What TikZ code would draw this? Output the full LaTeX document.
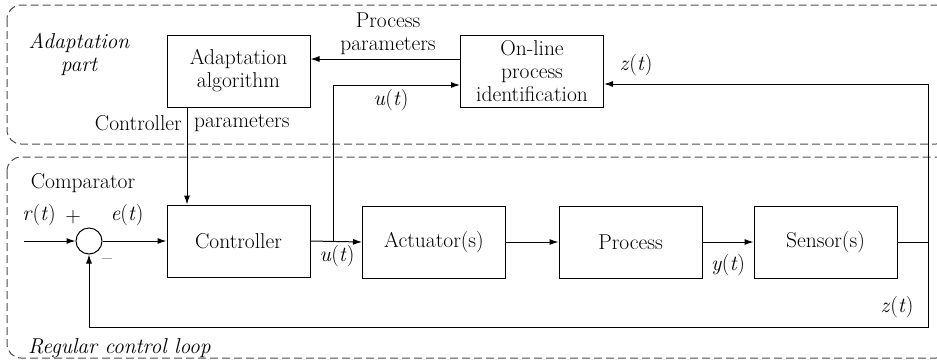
\documentclass[tikz,border=0pt]{standalone}
\usetikzlibrary{arrows.meta}
\begin{document}
\begin{tikzpicture}[x=1pt,y=-1pt,
  font=\rmfamily\fontsize{21.5}{23}\selectfont,
  blk/.style={draw,line width=1pt,minimum width=143pt,minimum height=72pt,inner sep=0pt,align=center},
  sig/.style={line width=1pt,-{Latex[length=9pt,width=6pt]}},
  wire/.style={line width=1pt},
  zone/.style={draw=black!70,line width=1pt,dash pattern=on 8pt off 4pt,rounded corners=14pt},
  lbl/.style={inner sep=0pt,align=center}]
\useasboundingbox (0,0) rectangle (937,360);
\clip (0,0) rectangle (937,360);
% zones
\draw[zone] (7,5) rectangle (950,144);
\draw[zone] (7,157) rectangle (950,358);
% blocks
\node[blk] (adapt) at (238.5,71) {Adaptation\\algorithm};
\node[blk] (online) at (532,71) {On-line\\process\\identification};
\node[blk] (ctrl) at (238.5,241) {Controller};
\node[blk] (act) at (434,242) {Actuator(s)};
\node[blk] (proc) at (630.5,242) {Process};
\node[blk] (sens) at (825.5,242) {Sensor(s)};
\node[draw,circle,line width=1pt,minimum size=26pt,inner sep=0pt] (cmp) at (89,241) {};
% coordinates
\coordinate (in) at (24,241);
\coordinate (br) at (333,241);
\coordinate (brtop) at (333,85);
\coordinate (rt) at (928,242);
\coordinate (rtop) at (928,84);
\coordinate (rbot) at (928,327);
\coordinate (lbot) at (89,327);
% connectors
\draw[sig] (in) -- (cmp.west);
\draw[sig] (cmp.east) -- (ctrl.west);
\draw[sig] (ctrl.east) -- (act.west);
\draw[sig] (act.east) -- (proc.west);
\draw[sig] (proc.east) -- (sens.west);
\draw[sig] (br) -- (brtop) -- (brtop -| online.west);
\draw[wire] (sens.east) -- (rt);
\draw[sig] (rt) -- (rtop) -- (rtop -| online.east);
\draw[sig] (rt) -- (rbot) -- (lbot) -- (cmp.south);
\draw[sig] (online.west |- 0,59) -- (adapt.east |- 0,59);
\draw[sig] (adapt.south -| 187,0) -- (ctrl.north -| 187,0);
% labels
\node[lbl] (pp) at (388,34) {Process\\parameters};
\node[lbl] (u1) at (391,100) {\textit{u}(\textit{t})};
\node[lbl,anchor=east] (cp1) at (182,123) {Controller};
\node[lbl,anchor=west] (cp2) at (194,123) {parameters};
\node[lbl,font=\rmfamily\fontsize{21.5}{23}\selectfont\itshape] (ap) at (79,54) {Adaptation\\part};
\node[lbl] (z1) at (636,65) {\textit{z}(\textit{t})};
\node[lbl] (cmpl) at (83,183) {Comparator};
\node[lbl] (r) at (39,215) {\textit{r}(\textit{t})};
\node[lbl] (plus) at (73,217) {+};
\node[lbl] (e) at (127,215) {\textit{e}(\textit{t})};
\node[lbl] (minus) at (107,262) {\textendash};
\node[lbl] (u2) at (337,256) {\textit{u}(\textit{t})};
\node[lbl] (y) at (728,265) {\textit{y}(\textit{t})};
\node[lbl] (z2) at (897,307) {\textit{z}(\textit{t})};
\node[lbl,anchor=west,font=\rmfamily\fontsize{21.5}{23}\selectfont\itshape] (rcl) at (28,348) {Regular control loop};
\end{tikzpicture}
\end{document}
